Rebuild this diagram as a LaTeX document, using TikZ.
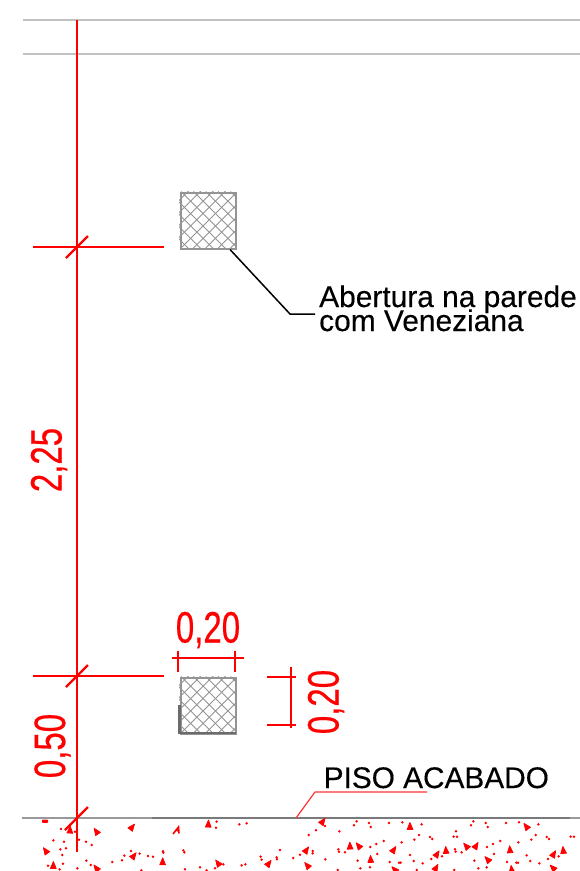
\documentclass[tikz,border=0pt]{standalone}
\usepackage{fontspec}
\usepackage{graphicx}
\setmainfont{Liberation Sans}
\newfontfamily\dimfont[FakeBold=0.6]{Liberation Sans}
\newfontfamily\notefont[FakeBold=0.25]{Liberation Sans}
\definecolor{cadred}{RGB}{255,0,0}
\tikzset{
  wallline/.style={draw=black!24,line width=2pt},
  floorthin/.style={draw=black!40,line width=1.2pt},
  floorthick/.style={draw=black!52,line width=2.4pt},
  dimline/.style={draw=cadred,line width=2.4pt},
  dimthin/.style={draw=cadred,line width=2pt},
  leaderblack/.style={draw=black,line width=1.5pt},
  leaderred/.style={draw=cadred!80,line width=1.2pt},
  blacklabel/.style={text=black,inner sep=0pt,anchor=base west,font=\notefont\fontsize{29.9}{30}\selectfont},
  dimlabel/.style={text=cadred,inner sep=0pt,font=\dimfont\fontsize{44}{44}\selectfont},
  ventframe/.style={draw=black!42,line width=2.2pt},
  venthatch/.style={draw=black!42,line width=.9pt},
}
\newcommand{\dimtext}[1]{\scalebox{0.75}[1]{#1}}
\newcommand{\ventilation}[3]{%
  \begin{scope}
    \clip (#1,#2) rectangle ++(56.5,56.5);
    \foreach \k in {0,...,10} {
      \draw[venthatch] ({#1+\k*12.4-60},{#2+56.5}) -- ++(60,-60);
      \draw[venthatch] ({#1+\k*12.4-60},{#2}) -- ++(60,60);
    }
  \end{scope}
  \node[ventframe,minimum size=55.5pt,inner sep=0pt,anchor=north west] (#3) at ({#1+.5},{#2+.5}) {};
}
\begin{document}
\begin{tikzpicture}[x=1pt,y=-1pt]
\useasboundingbox (0,0) rectangle (580,871);
\fill[white] (0,0) rectangle (580,871);

% wall / ceiling lines
\coordinate (c1a) at (23,20); \coordinate (c1b) at (580,20);
\coordinate (c2a) at (23,54); \coordinate (c2b) at (580,54);
\draw[wallline] (c1a) -- (c1b);
\draw[wallline] (c2a) -- (c2b);

% floor
\coordinate (f0) at (22,818); \coordinate (f1) at (152,818);
\coordinate (f2) at (570,818); \coordinate (f3) at (580,818);
\draw[floorthin] (f0) -- (f3);
\draw[floorthick] (f1) -- (f2);

% vents
\ventilation{179}{191.5}{ventA}
\ventilation{179}{676.5}{ventB}
\draw[draw=black!58,line width=2.2pt] (179.5,705) -- (179.5,733) -- (236,733);

% red splatter
\foreach \x/\y [count=\i] in {
 210/152,290/156,395/143,625/134,138/214,400/229,488/247,655/251,805/252,160/258,290/266,
 967/126,1230/141,1580/141,918/212,1050/200,1077/199,1180/211,1112/240,923/258,1310/224,1338/213,1400/200,1427/199,1530/211,1464/240,1660/224,1690/213,1185/270,1307/265,1535/270,1660/265}
 {\pgfmathsetmacro{\ang}{90+mod(\i*37,110)-40}
  \pgfmathsetmacro{\px}{\x<870?\x/3:(\x-870)/3+290}
  \pgfmathsetmacro{\py}{780+\y/3}
  \filldraw[cadred,line width=.7pt,line join=round,shift={(\px,\py)}]
    ({-\ang}:4.6) -- ({-\ang+130}:3.8) -- ({-\ang-130}:3.8) -- cycle;}
\draw[cadred,line width=1.6pt] (173,834) -- (178.5,827) -- (179,833.5) (176,830) -- (178.5,831);
\foreach \x/\y in {
 183/147,225/155,650/125,648/143,718/133,740/130,160/181,192/185,237/179,258/185,275/195,181/208,198/205,187/225,
 393/213,373/227,366/241,419/221,444/228,459/230,489/214,490/218,550/211,553/217,782/230,785/239,830/232,831/238,840/210,144/257,189/251,
 259/242,272/255,337/246,232/265,179/268,555/268,600/262,645/265,670/253,725/256,736/253,424/271,620/271,
 1070/124,1062/136,1107/129,1112/141,1167/129,1207/127,1265/133,975/138,1018/154,948/151,926/165,1420/124,1413/136,1457/129,1463/141,1518/129,1557/127,1615/133,1368/154,1361/170,1371/170,
 1151/183,1129/192,1111/201,1205/187,1257/165,1243/179,1290/171,1297/177,1501/183,1479/192,1461/201,1555/187,1607/165,1594/179,1640/171,1647/177,1712/170,1722/170,
 1015/208,1017/215,1035/217,938/213,938/220,900/224,880/234,976/238,1132/222,1230/225,1073/242,1169/246,1197/248,1202/248,1241/243,1268/250,1294/237,1326/229,
 1365/208,1367/215,1385/217,1482/222,1580/226,1423/242,1521/246,1549/248,1554/248,1591/243,1618/250,1644/237,1676/229,
 1081/265,1110/262,1013/270,1250/270,1363/270,1435/265,1460/262}
 {\fill[cadred] ({(\x<870?\x/3:(\x-870)/3+290)},{780+\y/3}) circle (1.35pt);}
\fill[cadred,rounded corners=.8pt] (42,819.5) rectangle (48,822.8);

% main dimension line
\coordinate (dTop) at (77,20); \coordinate (dBot) at (77,852);
\draw[dimline] (dTop) -- (dBot);
\coordinate (t1a) at (66,258); \coordinate (t1b) at (88,236);
\coordinate (t2a) at (66,687); \coordinate (t2b) at (88,665);
\coordinate (t3a) at (65,830); \coordinate (t3b) at (88,807);
\draw[dimline] (t1a) -- (t1b);
\draw[dimline] (t2a) -- (t2b);
\draw[dimline] (t3a) -- (t3b);
\coordinate (e1a) at (33,247); \coordinate (e1b) at (164,247);
\coordinate (e2a) at (33,676); \coordinate (e2b) at (164,676);
\draw[dimline] (e1a) -- (e1b);
\draw[dimline] (e2a) -- (e2b);

% horizontal 0,20 dimension
\coordinate (h0) at (172,658); \coordinate (h1) at (244,658);
\coordinate (h2a) at (178,651); \coordinate (h2b) at (178,672);
\coordinate (h3a) at (235,651); \coordinate (h3b) at (235,672);
\draw[dimthin] (h0) -- (h1);
\draw[dimthin] (h2a) -- (h2b);
\draw[dimthin] (h3a) -- (h3b);

% vertical 0,20 dimension
\coordinate (v0) at (290.5,667); \coordinate (v1) at (290.5,728);
\coordinate (v2a) at (267,677); \coordinate (v2b) at (296,677);
\coordinate (v3a) at (267,725); \coordinate (v3b) at (296,725);
\draw[dimthin] (v0) -- (v1);
\draw[dimthin] (v2a) -- (v2b);
\draw[dimthin] (v3a) -- (v3b);

% dimension texts
\node[dimlabel,rotate=90] (lab225) at (49,460) {\dimtext{2,25}};
\node[dimlabel,rotate=90] (lab050) at (52.5,746) {\dimtext{0,50}};
\node[dimlabel] (labH) at (208,630) {\dimtext{0,20}};
\node[dimlabel,rotate=90] (labV) at (326,702) {\dimtext{0,20}};

% labels and leaders
\node[blacklabel] (lab1) at (319,307) {Abertura na parede};
\node[blacklabel] (lab2) at (319,331) {com Veneziana};
\node[blacklabel,font=\notefont\fontsize{29.8}{30}\selectfont] (lab3) at (323.5,788) {PISO ACABADO};

\coordinate (la) at (290,314); \coordinate (lb) at (315,314);
\draw[leaderblack] (ventA.south east) ++(-7,0) -- (la) -- (lb);
\coordinate (pa) at (296,818); \coordinate (pb) at (315,792); \coordinate (pc) at (427,792);
\draw[leaderred] (pa) -- (pb) -- (pc);
\end{tikzpicture}
\end{document}
